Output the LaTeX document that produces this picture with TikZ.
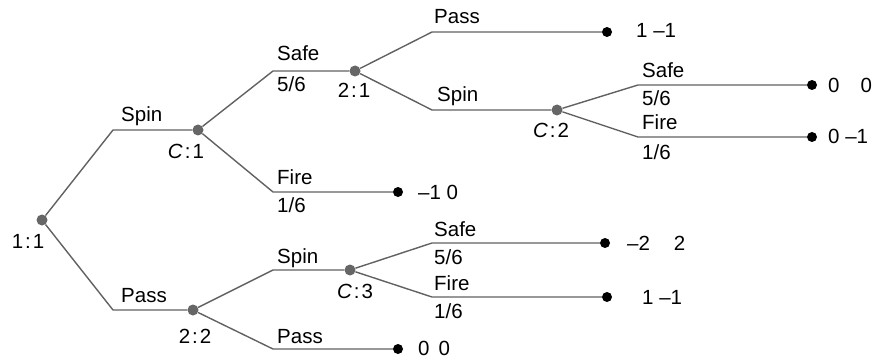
\documentclass[tikz,border=0pt]{standalone}
\usepackage{fontspec}
\setmainfont{Liberation Sans}
\begin{document}
\begin{tikzpicture}[x=1pt,y=-1pt,
  edge/.style={draw=black!62, line width=1.4pt},
  dnode/.style={circle, fill=black!60, inner sep=0pt, minimum size=11pt},
  leaf/.style={circle, fill=black, inner sep=0pt, minimum size=10pt},
  lbl/.style={anchor=base west, inner sep=0pt, font=\fontsize{20.5}{24}\selectfont},
  clbl/.style={anchor=base, inner sep=0pt, font=\fontsize{20.5}{24}\selectfont},
  ]
\useasboundingbox (0,0) rectangle (874,358);
% decision nodes
\node[dnode] (root) at (42,220) {};
\node[dnode] (c1) at (198,130) {};
\node[dnode] (n21) at (355,71) {};
\node[dnode] (c2) at (557,110) {};
\node[dnode] (n22) at (193,310) {};
\node[dnode] (c3) at (350,270) {};
% leaves
\node[leaf] (l1) at (607,32) {};
\node[leaf] (l2) at (812,85) {};
\node[leaf] (l3) at (812,137) {};
\node[leaf] (l4) at (398,192) {};
\node[leaf] (l5) at (605,243) {};
\node[leaf] (l6) at (607,297) {};
\node[leaf] (l7) at (398,349) {};
% bend points
\coordinate (b1) at (113,130);
\coordinate (b2) at (113,310);
\coordinate (b3) at (273,71);
\coordinate (b4) at (273,192);
\coordinate (b5) at (432,32);
\coordinate (b6) at (432,110);
\coordinate (b7) at (638,85);
\coordinate (b8) at (638,137);
\coordinate (b9) at (273,270);
\coordinate (b10) at (273,349);
\coordinate (b11) at (432,243);
\coordinate (b12) at (432,297);
% edges
\draw[edge] (root) -- (b1) -- (c1);
\draw[edge] (root) -- (b2) -- (n22);
\draw[edge] (c1) -- (b3) -- (n21);
\draw[edge] (c1) -- (b4) -- (l4);
\draw[edge] (n21) -- (b5) -- (l1);
\draw[edge] (n21) -- (b6) -- (c2);
\draw[edge] (c2) -- (b7) -- (l2);
\draw[edge] (c2) -- (b8) -- (l3);
\draw[edge] (n22) -- (b9) -- (c3);
\draw[edge] (n22) -- (b10) -- (l7);
\draw[edge] (c3) -- (b11) -- (l5);
\draw[edge] (c3) -- (b12) -- (l6);
% node labels
\node[clbl] (t11) at (28,248) {1\hspace{2pt}:\hspace{2pt}1};
\node[clbl] (tc1) at (186,158) {\textit{C}\hspace{2pt}:\hspace{2pt}1};
\node[clbl] (t21) at (354,98) {2\hspace{2pt}:\hspace{2pt}1};
\node[clbl] (tc2) at (551,138) {\textit{C}\hspace{2pt}:\hspace{2pt}2};
\node[clbl] (t22) at (195,343) {2\hspace{2pt}:\hspace{2pt}2};
\node[clbl] (tc3) at (355,298) {\textit{C}\hspace{2pt}:\hspace{2pt}3};
% edge labels
\node[lbl] (s1) at (121,122) {Spin};
\node[lbl] (p1) at (121,302) {Pass};
\node[lbl] (sa1) at (277,61) {Safe};
\node[lbl] (pr1) at (277,92) {5/6};
\node[lbl] (f1) at (277,184) {Fire};
\node[lbl] (pr2) at (277,212) {1/6};
\node[lbl] (p2) at (434,24) {Pass};
\node[lbl] (s2) at (437,102) {Spin};
\node[lbl] (sa2) at (642,78) {Safe};
\node[lbl] (pr3) at (642,106) {5/6};
\node[lbl] (f2) at (642,130) {Fire};
\node[lbl] (pr4) at (642,160) {1/6};
\node[lbl] (s3) at (277,263) {Spin};
\node[lbl] (p3) at (277,343) {Pass};
\node[lbl] (sa3) at (434,236) {Safe};
\node[lbl] (pr5) at (434,264) {5/6};
\node[lbl] (f3) at (434,290) {Fire};
\node[lbl] (pr6) at (434,318) {1/6};
% payoffs
\node[lbl] (v1) at (636,38) {1 \textendash1};
\node[lbl] (v2) at (828,93) {0\hspace{21pt}0};
\node[lbl] (v3) at (828,144) {0 \textendash1};
\node[lbl] (v4) at (418,199) {\textendash1 0};
\node[lbl] (v5) at (627,250) {\textendash2\hspace{24pt}2};
\node[lbl] (v6) at (642,304) {1 \textendash1};
\node[lbl] (v7) at (418,355) {0\hspace{9pt}0};
\end{tikzpicture}
\end{document}
